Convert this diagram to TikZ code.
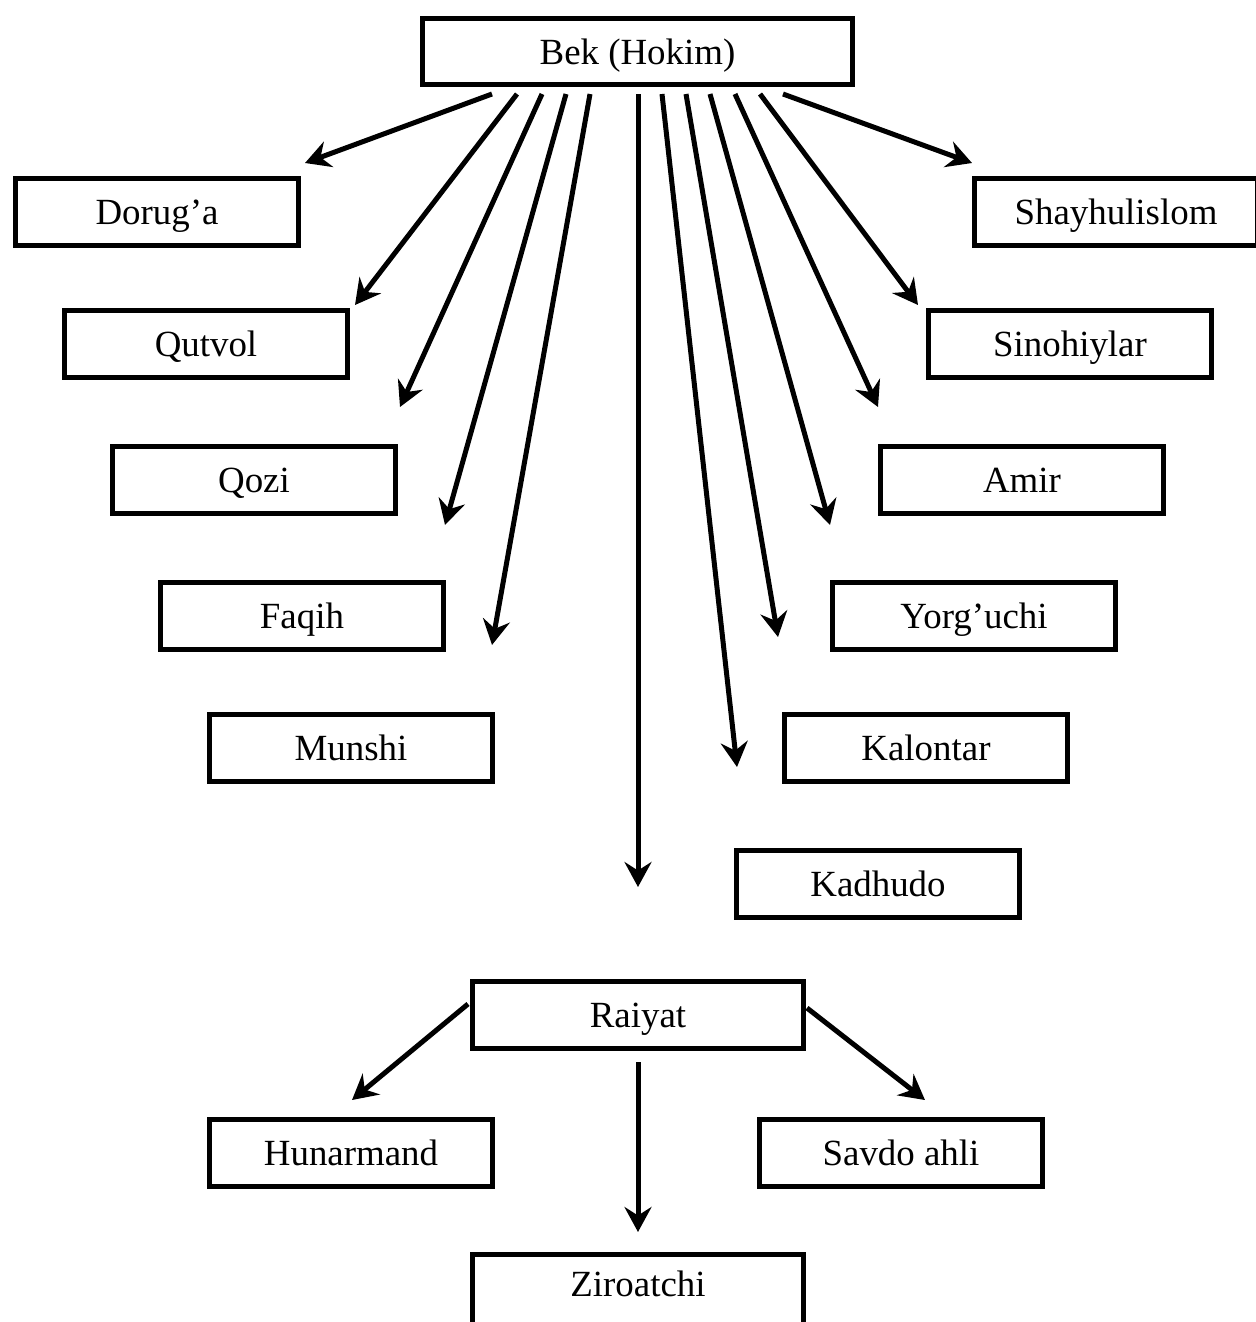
\documentclass[tikz,border=0pt]{standalone}
\usepackage{fontspec}
\setmainfont{Liberation Serif}
\usetikzlibrary{arrows.meta}
\tikzset{
  lbl/.style={font=\fontsize{21}{25}\selectfont, text depth=0pt},
  box/.style={lbl, draw, line width=0.1cm, minimum width=5.66cm, minimum height=1.34cm, inner sep=0pt},
  widebox/.style={box, minimum width=6.62cm},
  conn/.style={line width=0.1cm, -{Stealth[length=0.5cm, width=0.54cm, inset=0.17cm]}}
}
\begin{document}
\begin{tikzpicture}[x=0.02cm, y=-0.02cm]
\useasboundingbox (0,0) rectangle (1256,1322);
\clip (0,0) rectangle (1256,1322);
% nodes
\node[box, minimum width=8.6cm] (bek) at (637.5,51.5) {Bek (Hokim)};
\node[box] (doruga) at (157,212) {Dorug’a};
\node[box] (shay) at (1116,212) {Shayhulislom};
\node[box] (qutvol) at (206,344) {Qutvol};
\node[box] (sino) at (1070,344) {Sinohiylar};
\node[box] (qozi) at (254,480) {Qozi};
\node[box] (amir) at (1022,480) {Amir};
\node[box] (faqih) at (302,616) {Faqih};
\node[box] (yorg) at (974,616) {Yorg’uchi};
\node[box] (munshi) at (351,748) {Munshi};
\node[box] (kalon) at (926,748) {Kalontar};
\node[box] (kadh) at (878,884) {Kadhudo};
\node[widebox] (raiyat) at (638,1015) {Raiyat};
\node[box] (hunar) at (351,1153) {Hunarmand};
\node[box] (savdo) at (901,1153) {Savdo ahli};
\node[widebox, minimum height=1.5cm] (ziro) at (638,1292) {};
\node[lbl] (zirot) at (638,1284) {Ziroatchi};
% start coordinates
\coordinate (s1) at (492,94);
\coordinate (s2) at (517,94);
\coordinate (s3) at (542,94);
\coordinate (s4) at (566,94);
\coordinate (s5) at (590,94);
\coordinate (s6) at (638,94);
\coordinate (s7) at (662,94);
\coordinate (s8) at (686,94);
\coordinate (s9) at (710,94);
\coordinate (s10) at (735,94);
\coordinate (s11) at (760,94);
\coordinate (s12) at (783,94);
% tip coordinates
\coordinate (e1) at (305,163);
\coordinate (e2) at (355,305);
\coordinate (e3) at (400,407);
\coordinate (e4) at (445,525);
\coordinate (e5) at (492,645);
\coordinate (e6) at (638,887);
\coordinate (e7) at (737,767);
\coordinate (e8) at (778,637);
\coordinate (e9) at (830,525);
\coordinate (e10) at (878,407);
\coordinate (e11) at (918,305);
\coordinate (e12) at (972,163);
\foreach \i in {1,...,12} { \draw[conn] (s\i) -- (e\i); }
% Raiyat connectors
\coordinate (r1) at (468,1004);
\coordinate (r2) at (807,1008);
\coordinate (r3) at (638,1062);
\coordinate (t1) at (352,1100);
\coordinate (t2) at (925,1100);
\coordinate (t3) at (638,1232);
\draw[conn] (r1) -- (t1);
\draw[conn] (r2) -- (t2);
\draw[conn] (r3) -- (t3);
\end{tikzpicture}
\end{document}
